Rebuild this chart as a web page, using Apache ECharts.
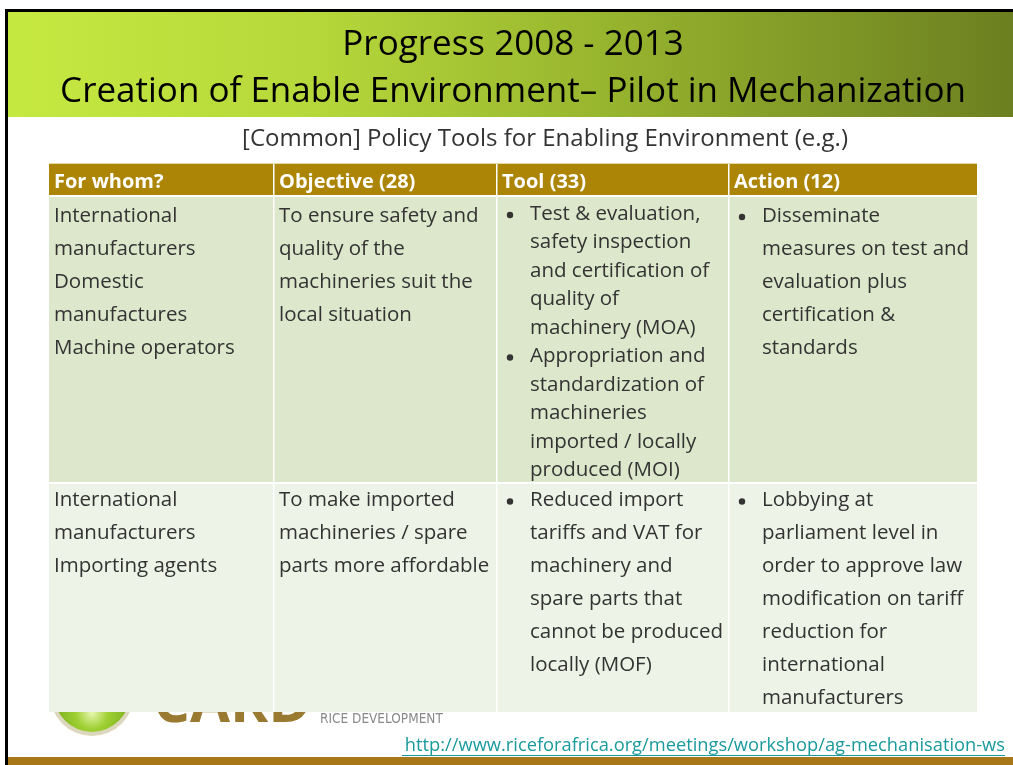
<!DOCTYPE html>
<html>
<head>
<meta charset="utf-8">
<script src="https://cdn.jsdelivr.net/npm/echarts@6/dist/echarts.min.js"></script>
<style>
html,body{margin:0;padding:0;background:#fff;}
#main{width:1013px;height:765px;}
</style>
</head>
<body>
<div id="main"></div>
<script>
// ---- data ----
const titleLines = ['Progress 2008 - 2013', 'Creation of Enable Environment\u2013 Pilot in Mechanization'];
const subtitle = '[Common] Policy Tools for Enabling Environment (e.g.)';
const headers = ['For whom?', 'Objective (28)', 'Tool (33)', 'Action (12)'];
const row1WhoLines = ['International', 'manufacturers', 'Domestic', 'manufactures', 'Machine operators'];
const row1ObjectiveLines = ['To ensure safety and', 'quality of the', 'machineries suit the', 'local situation'];
const row1ToolBullets = [
  ['Test & evaluation,', 'safety inspection', 'and certification of', 'quality of', 'machinery (MOA)'],
  ['Appropriation and', 'standardization of', 'machineries', 'imported / locally', 'produced (MOI)']
];
const row1ActionBullets = [
  ['Disseminate', 'measures on test and', 'evaluation plus', 'certification &', 'standards']
];
const row2WhoLines = ['International', 'manufacturers', 'Importing agents'];
const row2ObjectiveLines = ['To make imported', 'machineries / spare', 'parts more affordable'];
const row2ToolBullets = [
  ['Reduced import', 'tariffs and VAT for', 'machinery and', 'spare parts that', 'cannot be produced', 'locally (MOF)']
];
const row2ActionBullets = [
  ['Lobbying at', 'parliament level in', 'order to approve law', 'modification on tariff', 'reduction for', 'international', 'manufacturers']
];
const logoWord = 'CARD';
const logoSub = 'RICE DEVELOPMENT';
const linkText = 'http://www.riceforafrica.org/meetings/workshop/ag-mechanisation-ws';

// ---- layout ----
const FONT = '"Open Sans", "Noto Sans", sans-serif';
const colX = [49, 274, 497, 729, 977];
const headTop = 164, headBot = 196, row1Bot = 483, row2Bot = 712;
const bodyColor = '#333333';
const bodySize = 20.5;

const chart = echarts.init(document.getElementById('main'), null, {renderer: 'canvas'});
const g = [];

// frame
g.push({type: 'rect', shape: {x: 5, y: 9, width: 1008, height: 3}, style: {fill: '#000'}});
g.push({type: 'rect', shape: {x: 5, y: 9, width: 3, height: 756}, style: {fill: '#000'}});
// title band
g.push({type: 'rect', shape: {x: 8, y: 12, width: 1005, height: 105},
  style: {fill: new echarts.graphic.LinearGradient(0, 0, 1, 0, [
    {offset: 0, color: '#c6e941'}, {offset: 0.3, color: '#b6d83a'},
    {offset: 0.6, color: '#97b42e'}, {offset: 1, color: '#6c7f20'}])}});
g.push({type: 'text', style: {text: titleLines[0], x: 513, y: 45, textAlign: 'center', textVerticalAlign: 'middle', font: '35px ' + FONT, fill: '#000'}});
g.push({type: 'text', style: {text: titleLines[1], x: 513, y: 92, textAlign: 'center', textVerticalAlign: 'middle', font: '35px ' + FONT, fill: '#000'}});
// subtitle
g.push({type: 'text', style: {text: subtitle, x: 545, y: 139, textAlign: 'center', textVerticalAlign: 'middle', font: '24px ' + FONT, fill: '#333'}});

// logo (mostly hidden behind table)
g.push({type: 'circle', shape: {cx: 92, cy: 694, r: 42}, style: {fill: '#ddd7bd'}});
g.push({type: 'circle', shape: {cx: 92, cy: 694, r: 38},
  style: {fill: new echarts.graphic.RadialGradient(0.5, 0.75, 0.6, [
    {offset: 0, color: '#e8f7b0'}, {offset: 0.35, color: '#9fd033'}, {offset: 1, color: '#6aa418'}])}});
g.push({type: 'text', style: {text: logoWord, x: 153, y: 676, textAlign: 'left', textVerticalAlign: 'top', font: 'bold 58px ' + FONT, fill: '#9a7a30'}});
g.push({type: 'text', style: {text: logoSub, x: 320, y: 719, textAlign: 'left', textVerticalAlign: 'middle', font: '13.5px "DejaVu Sans Condensed", ' + FONT, fill: '#8a8a8a'}});

// table backgrounds
g.push({type: 'rect', shape: {x: colX[0], y: headTop, width: colX[4] - colX[0], height: headBot - headTop}, style: {fill: '#ac8506'}});
g.push({type: 'rect', shape: {x: colX[0], y: headBot, width: colX[4] - colX[0], height: row1Bot - headBot}, style: {fill: '#dce7cb'}});
g.push({type: 'rect', shape: {x: colX[0], y: row1Bot, width: colX[4] - colX[0], height: row2Bot - row1Bot}, style: {fill: '#edf3e6'}});
// white grid lines
[headBot, row1Bot].forEach(function (y) {
  g.push({type: 'rect', shape: {x: colX[0], y: y - 1, width: colX[4] - colX[0], height: 2}, style: {fill: '#fff'}});
});
g.push({type: 'rect', shape: {x: colX[0], y: headTop - 1, width: colX[4] - colX[0], height: 1}, style: {fill: '#e8d9a8'}});
for (let i = 1; i < 4; i++) {
  g.push({type: 'rect', shape: {x: colX[i] - 1, y: headTop, width: 1.5, height: row2Bot - headTop}, style: {fill: '#fff'}});
}

// headers
headers.forEach(function (h, i) {
  g.push({type: 'text', style: {text: h, x: colX[i] + 5, y: 182, textAlign: 'left', textVerticalAlign: 'middle', font: 'bold 20px ' + FONT, fill: '#fff'}});
});

function addLines(lines, x, y0, lh) {
  lines.forEach(function (t, k) {
    g.push({type: 'text', style: {text: t, x: x, y: y0 + k * lh, textAlign: 'left', textVerticalAlign: 'middle', font: bodySize + 'px ' + FONT, fill: bodyColor}});
  });
}
function addBullets(bullets, col, y0, lh) {
  let k = 0;
  bullets.forEach(function (b) {
    g.push({type: 'circle', shape: {cx: colX[col] + 13, cy: y0 + 1 + k * lh, r: 3.2}, style: {fill: bodyColor}});
    addLines(b, colX[col] + 33, y0 + k * lh, lh);
    k += b.length;
  });
}

addLines(row1WhoLines, colX[0] + 5, 216, 33);
addLines(row1ObjectiveLines, colX[1] + 5, 216, 33);
addBullets(row1ToolBullets, 2, 214, 28.5);
addBullets(row1ActionBullets, 3, 216, 33);

addLines(row2WhoLines, colX[0] + 5, 500.5, 33);
addLines(row2ObjectiveLines, colX[1] + 5, 500.5, 33);
addBullets(row2ToolBullets, 2, 500.5, 33);
addBullets(row2ActionBullets, 3, 500.5, 33);

// link
g.push({type: 'text', style: {text: linkText, x: 1005, y: 746, textAlign: 'right', textVerticalAlign: 'middle', font: '18.3px ' + FONT, fill: '#1a9a9c'}});
g.push({type: 'rect', shape: {x: 402, y: 755, width: 603, height: 1}, style: {fill: '#1a9a9c'}});

// bottom bar
g.push({type: 'rect', shape: {x: 8, y: 757, width: 1005, height: 8}, style: {fill: '#a87818'}});

chart.setOption({animation: false, graphic: {elements: g}});
</script>
</body>
</html>
